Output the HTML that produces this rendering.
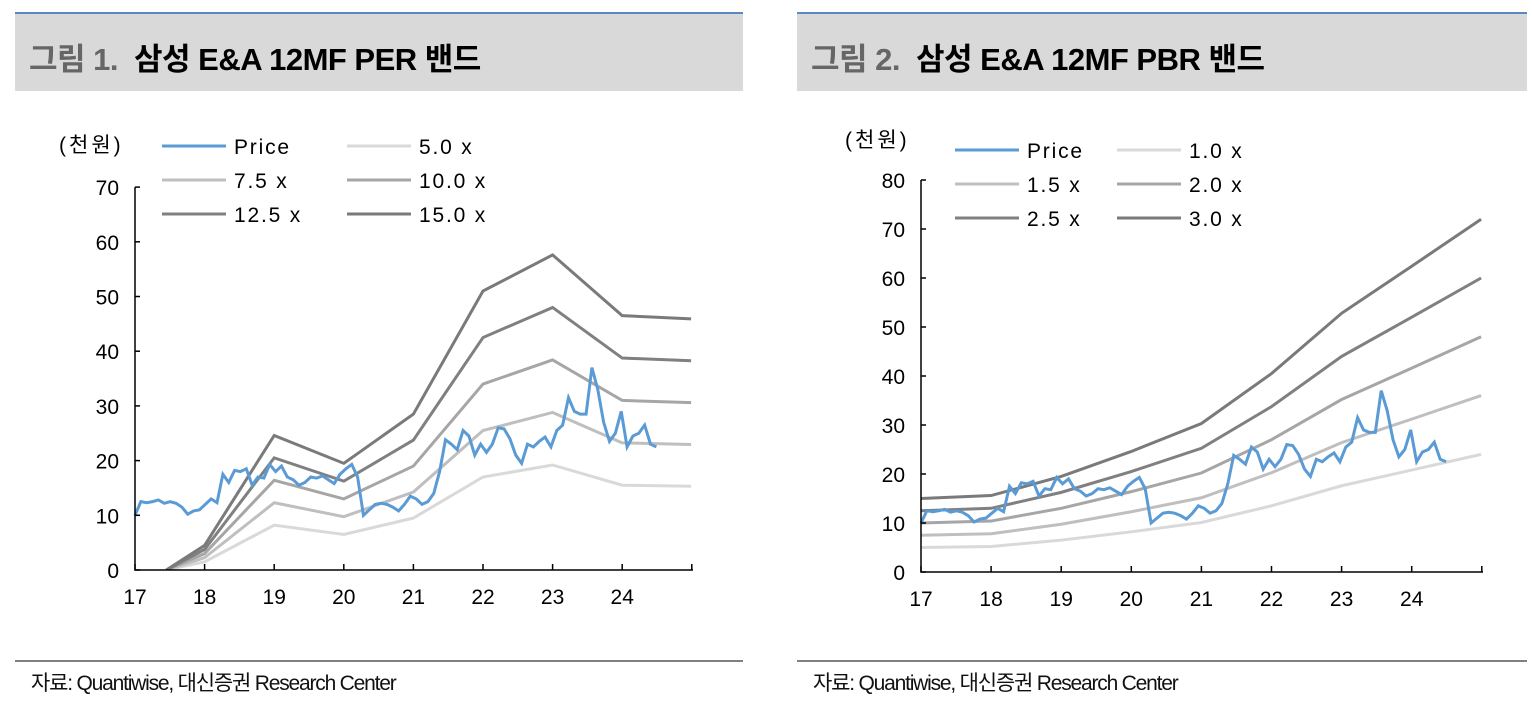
<!DOCTYPE html>
<html><head><meta charset="utf-8">
<style>
body{margin:0;background:#fff;width:1532px;height:701px;overflow:hidden;font-family:"Liberation Sans","Noto Sans CJK KR",sans-serif}
.hdr{position:absolute;top:12px;height:77px;background:#d9d9d9;border-top:2px solid #5b87c5}
.hdr span{position:absolute;left:14px;top:20px;font-size:31px;font-weight:bold;letter-spacing:-0.5px;color:#000;white-space:nowrap}
.hdr span b{color:#666;font-weight:bold;margin-right:16px}
.ft{position:absolute;top:660px;height:0;border-top:2px solid #808080}
.ft span{position:absolute;left:16px;top:5px;font-size:21px;letter-spacing:-1.2px;color:#111;white-space:nowrap}
svg{position:absolute;left:0;top:0}
</style></head><body>
<div class="hdr" style="left:15px;width:728px"><span><b>그림 1.</b>삼성 E&amp;A 12MF PER 밴드</span></div>
<div class="hdr" style="left:797px;width:730px"><span><b>그림 2.</b>삼성 E&amp;A 12MF PBR 밴드</span></div>
<div class="ft" style="left:15px;width:728px"><span>자료: Quantiwise, 대신증권 Research Center</span></div>
<div class="ft" style="left:797px;width:730px"><span>자료: Quantiwise, 대신증권 Research Center</span></div>
<svg id="chart" width="1532" height="701"></svg>
<script>
const yearLabels=["17","18","19","20","21","22","23","24"];
const price=[10,12.5,12.3,12.5,12.8,12.2,12.5,12.2,11.5,10.2,10.8,11,
12,13,12.3,17.5,16,18.2,18,18.5,15.5,17,16.8,19.3,
18,19,17,16.5,15.5,16,17,16.8,17.2,16.5,15.8,17.5,
18.5,19.3,17,10,11,12,12.2,12,11.5,10.8,12,13.5,
13,12,12.5,14,18,23.8,23,22,25.5,24.5,21,23,
21.5,23,26,25.8,24,21,19.5,23,22.5,23.5,24.3,22.5,
25.5,26.5,31.5,29,28.5,28.5,37,33,27,23.5,25,29,
22.5,24.5,25,26.5,23,22.5];
const perMultiples=[5,7.5,10,12.5,15];
const perLabels=["5.0 x","7.5 x","10.0 x","12.5 x","15.0 x"];
const epsT=[17.45,18,19,20,21,22,23,24,24.99];
const epsV=[0,0.3,1.64,1.3,1.9,3.4,3.84,3.1,3.06];
const pbrMultiples=[1,1.5,2,2.5,3];
const pbrLabels=["1.0 x","1.5 x","2.0 x","2.5 x","3.0 x"];
const bpsT=[17,18,19,20,21,22,23,24,24.99];
const bpsV=[5,5.2,6.5,8.2,10.1,13.5,17.6,20.8,24];
const perTicks=[0,10,20,30,40,50,60,70];
const pbrTicks=[0,10,20,30,40,50,60,70,80];
const bandColors=["#d9d9d9","#bfbfbf","#a6a6a6","#808080","#7a7a7a"];
const NS="http://www.w3.org/2000/svg";
const svg=document.getElementById('chart');
function el(tag,attrs,parent){const e=document.createElementNS(NS,tag);for(const k in attrs)e.setAttribute(k,attrs[k]);(parent||svg).appendChild(e);return e;}
function drawChart(cfg){
  const g=el('g',{});
  
  
  const X=t=>cfg.x0+(t-17)*cfg.xs, Y=v=>cfg.y0-v*cfg.ys;
  const cp=el('clipPath',{id:cfg.name+'-clip'},g);
  el('rect',{x:cfg.x0,y:0,width:cfg.x1-cfg.x0,height:cfg.y0},cp);
  cfg.mult.forEach((m,i)=>{
    const pts=cfg.bT.map((t,j)=>X(t)+','+Y(cfg.bV[j]*m)).join(' ');
    const p=el('polyline',{points:pts,fill:'none',stroke:bandColors[i],'stroke-width':3,'clip-path':'url(#'+cfg.name+'-clip)'},g);
    
    
  });
  const pp=el('polyline',{points:price.map((v,i)=>X(17+i/12*1.01)+','+Y(v)).join(' '),fill:'none',stroke:'#5b9bd5','stroke-width':3},g);
  
  
  const ax=el('path',{d:`M${cfg.x0} ${Y(cfg.ticks[cfg.ticks.length-1])}V${cfg.y0}H${cfg.x1}`,stroke:'#000','stroke-width':1.5,fill:'none'},g);
  
  
  cfg.ticks.forEach(v=>{
    el('line',{x1:cfg.x0,x2:cfg.x0+5,y1:Y(v),y2:Y(v),stroke:'#000','stroke-width':1.5},g);
    const t=el('text',{x:cfg.x0-16,y:Y(v)+8,'text-anchor':'end','font-size':21,fill:'#000'},g);
    t.textContent=v;
    
    
  });
  for(let k=0;k<=8;k++){
    const x=Math.min(X(17+k),cfg.x1);
    el('line',{x1:x,x2:x,y1:cfg.y0,y2:cfg.y0-6,stroke:'#000','stroke-width':1.5},g);
  }
  yearLabels.forEach((s,k)=>{
    const t=el('text',{x:X(17+k),y:cfg.y0+34,'text-anchor':'middle','font-size':21,fill:'#000'},g);
    t.textContent=s;
    
    
  });
  const u=el('text',{x:cfg.x0-76,y:cfg.unitY,'font-size':21,fill:'#000','letter-spacing':3},g);
  u.textContent='(천원)';
  
  
  const items=[['Price','#5b9bd5']].concat(cfg.labels.map((l,i)=>[l,bandColors[i]]));
  items.forEach((it,i)=>{
    const col=i%2,row=Math.floor(i/2);
    const lx=cfg.legX+col*cfg.legDX, ly=cfg.legY+row*34;
    const lg=el('g',{},g);
    
    
    el('line',{x1:lx,x2:lx+64,y1:ly,y2:ly,stroke:it[1],'stroke-width':3},lg);
    const t=el('text',{x:lx+72,y:ly+8,'font-size':21,fill:'#000','letter-spacing':1.8},lg);
    t.textContent=it[0];
  });
}
drawChart({name:'per-band-chart',x0:135,x1:693,y0:570,xs:69.6,ys:5.47,ticks:perTicks,mult:perMultiples,labels:perLabels,bT:epsT,bV:epsV,unitY:152,legX:162,legDX:185,legY:146});
drawChart({name:'pbr-band-chart',x0:921,x1:1483,y0:572,xs:70.1,ys:4.9,ticks:pbrTicks,mult:pbrMultiples,labels:pbrLabels,bT:bpsT,bV:bpsV,unitY:147,legX:955,legDX:162,legY:150});
</script>
</body></html>
